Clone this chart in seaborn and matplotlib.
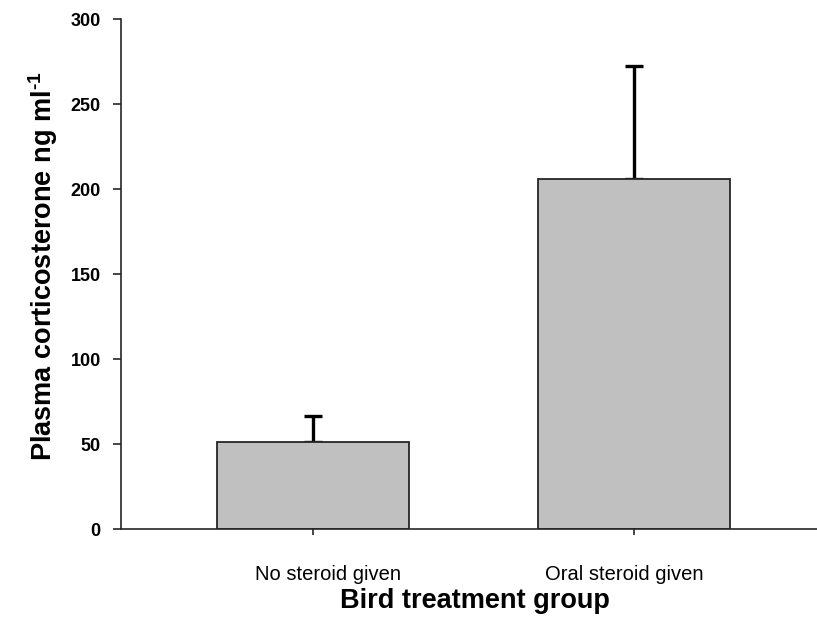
import matplotlib
matplotlib.use("Agg")
import matplotlib.pyplot as plt
import matplotlib.transforms as mtransforms
import seaborn as sns
import numpy as np

categories = ["No steroid given", "Oral steroid given"]
means = [51.5, 206.0]
sem = [15.1, 66.6]
yticks = [0, 50, 100, 150, 200, 250, 300]

sns.set_theme(style="white")
plt.rcParams['font.family'] = ['Liberation Sans', 'DejaVu Sans']
plt.rcParams['mathtext.fontset'] = 'custom'
plt.rcParams['mathtext.rm'] = 'Liberation Sans:bold'
plt.rcParams['mathtext.bf'] = 'Liberation Sans:bold'
plt.rcParams['mathtext.default'] = 'bf'
plt.rcParams['text.color'] = 'black'
plt.rcParams['axes.labelcolor'] = 'black'

fig = plt.figure(figsize=(8.17, 6.19), dpi=100)
ax = fig.add_axes([121/817, 1 - 529.3/619, (817 - 121)/817, (529.3 - 19.3)/619])

sns.barplot(x=categories, y=means, color="#c0c0c0", saturation=1, width=0.6,
            edgecolor="#262626", linewidth=1.3, errorbar=None, ax=ax, zorder=2)
ax.errorbar(np.arange(len(categories)), means, yerr=[np.zeros(len(sem)), sem],
            fmt="none", ecolor="black", elinewidth=2.4, capsize=6.5, capthick=2.4, zorder=1)

ax.set_xlim(-0.598, 1.570)
ax.set_ylim(0, 300)
ax.set_yticks(yticks)
ax.set_yticklabels([str(v) for v in yticks], fontsize=13, fontweight="bold")
ax.set_xticks(range(len(categories)))
ax.set_xticklabels(categories, fontsize=14.5)

for s in ["top", "right"]:
    ax.spines[s].set_visible(False)
for s in ["left", "bottom"]:
    ax.spines[s].set_color("#262626")
    ax.spines[s].set_linewidth(1.2)

ax.tick_params(axis="y", direction="out", length=6, width=1.2, pad=8.5, colors="#262626", labelcolor="black", left=True)
ax.tick_params(axis="x", direction="out", length=4.5, width=1.2, pad=21, colors="#262626", labelcolor="black", bottom=True)

# small horizontal offsets of the category labels, as in the original
for lbl, dx in zip(ax.get_xticklabels(), [15, -10]):
    lbl.set_transform(lbl.get_transform() + mtransforms.ScaledTranslation(dx / 100, 0, fig.dpi_scale_trans))

ax.set_ylabel("Plasma corticosterone ng ml$^{\\text{-}1}$", fontsize=19.5, fontweight="bold", color="black")
ax.set_xlabel("Bird treatment group", fontsize=19.5, fontweight="bold", color="black")
ax.yaxis.set_label_coords(-0.088, 0.516)
ax.xaxis.set_label_coords(0.509, -0.116)

fig.savefig("out.png", dpi=100)
